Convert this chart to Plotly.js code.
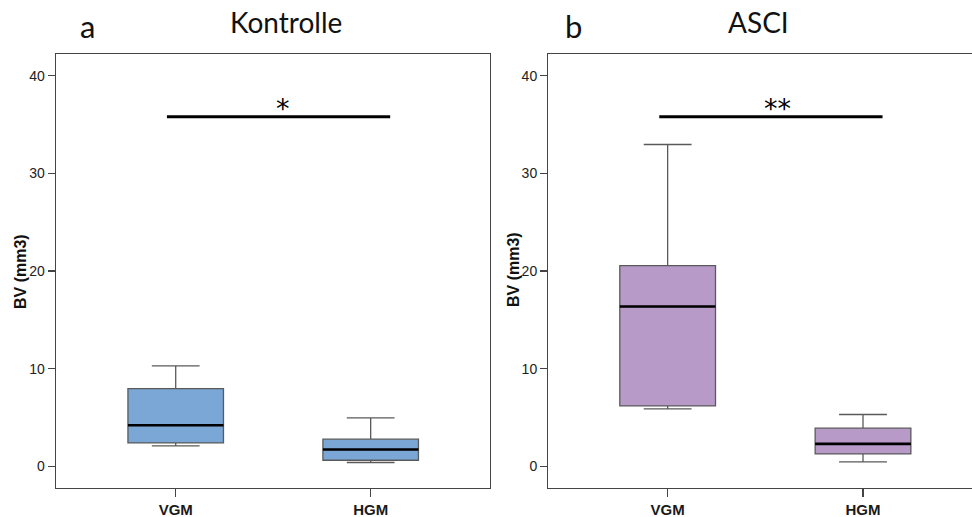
<!DOCTYPE html>
<html>
<head>
<meta charset="utf-8">
<script src="https://cdn.plot.ly/plotly-3.0.1.min.js"></script>
<style>html,body{margin:0;padding:0;background:#fff;}#chart{width:972px;height:517px;}</style>
</head>
<body>
<div id="chart"></div>
<script>
// ---- data ----
const categories = ['VGM', 'HGM'];
const catPos = [0, 1];

// Panel a: Kontrolle
const kontrolleLower = [2.08, 0.38];
const kontrolleQ1 = [2.39, 0.61];
const kontrolleMedian = [4.2, 1.71];
const kontrolleQ3 = [7.96, 2.77];
const kontrolleUpper = [10.28, 4.95];

// Panel b: ASCI
const asciLower = [5.87, 0.44];
const asciQ1 = [6.18, 1.26];
const asciMedian = [16.36, 2.29];
const asciQ3 = [20.56, 3.9];
const asciUpper = [32.96, 5.3];

// significance bars: [xStart, xEnd, y], label
const sigA = [-0.045, 1.10, 35.8];
const sigALabel = '*';
const sigB = [-0.043, 1.10, 35.8];
const sigBLabel = '**';

const yTicks = [0, 10, 20, 30, 40];
const panelTitles = ['Kontrolle', 'ASCI'];
const panelLetters = ['a', 'b'];
const yLabel = 'BV (mm3)';

// ---- styles ----
const boxWidth = 0.49;
const blue = 'rgb(123,167,214)';
const purple = 'rgb(184,154,200)';
const outline = '#5a5a5a';
const txt = '#1a1a1a';

function boxTrace(q1, med, q3, lo, hi, fill, xa, ya) {
  return {
    type: 'box', x: catPos, q1: q1, median: med, q3: q3,
    lowerfence: lo, upperfence: hi, width: boxWidth,
    whiskerwidth: 0.5, boxpoints: false,
    fillcolor: fill, line: {color: outline, width: 1.3},
    xaxis: xa, yaxis: ya, hoverinfo: 'skip', showlegend: false
  };
}
function medianTraces(med, xa, ya) {
  return catPos.map((p, i) => ({
    type: 'scatter', mode: 'lines',
    x: [p - boxWidth / 2, p + boxWidth / 2], y: [med[i], med[i]],
    line: {color: '#000', width: 2.6},
    xaxis: xa, yaxis: ya, hoverinfo: 'skip', showlegend: false
  }));
}
function sigTrace(sig, xa, ya) {
  return {
    type: 'scatter', mode: 'lines',
    x: [sig[0], sig[1]], y: [sig[2], sig[2]],
    line: {color: '#000', width: 3},
    xaxis: xa, yaxis: ya, hoverinfo: 'skip', showlegend: false
  };
}

const data = [
  boxTrace(kontrolleQ1, kontrolleMedian, kontrolleQ3, kontrolleLower, kontrolleUpper, blue, 'x', 'y'),
  ...medianTraces(kontrolleMedian, 'x', 'y'),
  sigTrace(sigA, 'x', 'y'),
  boxTrace(asciQ1, asciMedian, asciQ3, asciLower, asciUpper, purple, 'x2', 'y2'),
  ...medianTraces(asciMedian, 'x2', 'y2'),
  sigTrace(sigB, 'x2', 'y2')
];

const W = 972, H = 517;
const yDom = [(H - 487.7) / H, (H - 54.3) / H];

function xAxis(domain, range, mirror) {
  return {
    domain: domain, range: range, tickvals: catPos, ticktext: categories,
    showline: true, linecolor: '#444', linewidth: 1.3, mirror: mirror,
    ticks: 'outside', ticklen: 8, tickcolor: '#444', tickwidth: 1.3,
    ticklabelstandoff: 0,
    showgrid: false, zeroline: false, fixedrange: true,
    tickfont: {family: 'Liberation Sans, Arial, sans-serif', size: 15, color: txt, weight: 'bold'}
  };
}
function yAxis(anchor, mirror) {
  return {
    domain: yDom, range: [-2.2, 42.2], tickvals: yTicks, anchor: anchor,
    showline: true, linecolor: '#444', linewidth: 1.3, mirror: mirror,
    ticks: 'outside', ticklen: 7, tickcolor: '#444', tickwidth: 1.3,
    ticklabelstandoff: 0,
    showgrid: false, zeroline: false, fixedrange: true,
    tickfont: {family: 'Liberation Sans, Arial, sans-serif', size: 14, color: '#222'}
  };
}

const titleFont = {family: 'Lato, Open Sans, sans-serif', size: 28, color: '#111'};
const letterFont = {family: 'Lato, Open Sans, sans-serif', size: 31, color: '#111'};
const yLabFont = {family: 'Liberation Sans, Arial, sans-serif', size: 16, color: '#111', weight: 'bold'};
const starFont = {family: 'DejaVu Sans, sans-serif', size: 27, color: '#000'};

const layout = {
  width: W, height: H,
  margin: {l: 0, r: 0, t: 0, b: 0},
  paper_bgcolor: '#fff', plot_bgcolor: '#fff',
  showlegend: false,
  xaxis: xAxis([56 / W, 490 / W], [-0.614, 1.612], true),
  yaxis: yAxis('x', true),
  xaxis2: Object.assign(xAxis([548.3 / W, 1], [-0.611, 1.558], true), {anchor: 'y2'}),
  yaxis2: yAxis('x2', false),
  annotations: [
    {text: panelTitles[0], xref: 'paper', yref: 'paper', x: 286 / W, y: (H - 22) / H, showarrow: false, font: titleFont, xanchor: 'center', yanchor: 'middle'},
    {text: panelTitles[1], xref: 'paper', yref: 'paper', x: 758 / W, y: (H - 22) / H, showarrow: false, font: titleFont, xanchor: 'center', yanchor: 'middle'},
    {text: panelLetters[0], xref: 'paper', yref: 'paper', x: 87 / W, y: (H - 26) / H, showarrow: false, font: letterFont, xanchor: 'center', yanchor: 'middle'},
    {text: panelLetters[1], xref: 'paper', yref: 'paper', x: 573 / W, y: (H - 26) / H, showarrow: false, font: letterFont, xanchor: 'center', yanchor: 'middle'},
    {text: yLabel, xref: 'paper', yref: 'paper', x: 20 / W, y: (H - 272) / H, textangle: -90, showarrow: false, font: yLabFont, xanchor: 'center', yanchor: 'middle'},
    {text: yLabel, xref: 'paper', yref: 'paper', x: 513 / W, y: (H - 270) / H, textangle: -90, showarrow: false, font: yLabFont, xanchor: 'center', yanchor: 'middle'},
    {text: sigALabel, xref: 'x', yref: 'y', x: 0.55, y: sigA[2], yanchor: 'middle', yshift: 8, showarrow: false, font: starFont},
    {text: sigBLabel, xref: 'x2', yref: 'y2', x: 0.563, y: sigB[2], yanchor: 'middle', yshift: 8, showarrow: false, font: starFont}
  ]
};

Plotly.newPlot('chart', data, layout, {staticPlot: true, displayModeBar: false});
</script>
</body>
</html>
